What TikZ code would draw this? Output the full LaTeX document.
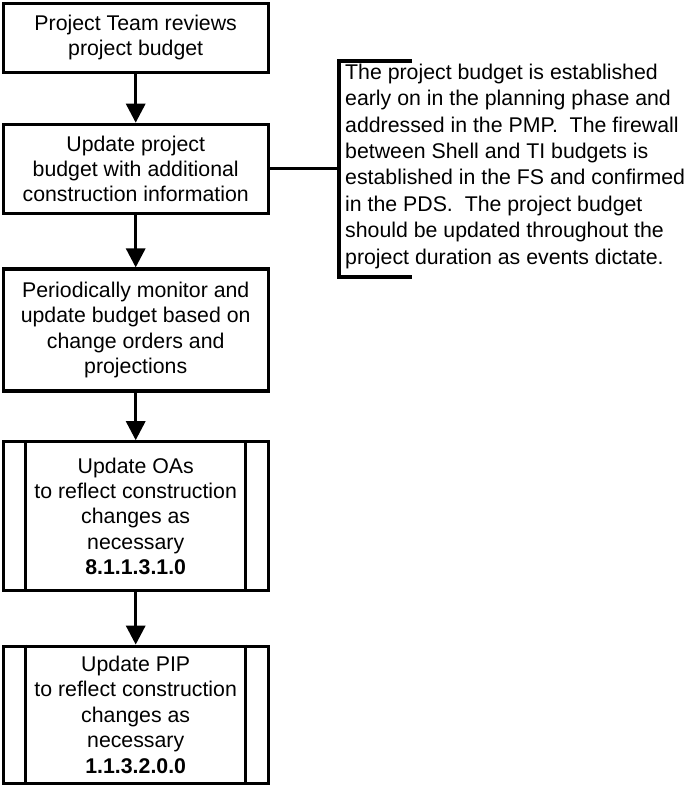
\documentclass[tikz,border=0pt]{standalone}
\usepackage{fontspec}
\setmainfont{Liberation Sans}
\usetikzlibrary{positioning, arrows.meta}

\tikzset{
  stepbox/.style={draw, line width=3.2pt, minimum width=265pt, inner sep=0pt,
                  align=center, font=\fontsize{21.3}{25.4}\selectfont},
  flowarrow/.style={line width=3.2pt, -{Triangle[width=19pt, length=19pt]}},
  plainline/.style={line width=3.2pt},
}

\begin{document}
\begin{tikzpicture}[x=1pt, y=-1pt]
  \useasboundingbox (0,0) rectangle (685,788);

  % main flow
  \node[stepbox, minimum height=69pt] (review) at (135.7,37.7)
    {Project Team reviews\\project budget};
  \node[stepbox, minimum height=89pt] (update) at (135.7,168.8)
    {Update project\\budget with additional\\construction information};
  \node[stepbox, minimum height=122pt] (monitor) at (135.7,330)
    {Periodically monitor and\\update budget based on\\change orders and\\projections};
  \node[stepbox, minimum height=149pt] (oas) at (135.7,516.3)
    {Update OAs\\to reflect construction\\changes as\\necessary\\\textbf{8.1.1.3.1.0}};
  \node[stepbox, minimum height=137pt] (pip) at (135.7,714.7)
    {Update PIP\\to reflect construction\\changes as\\necessary\\\textbf{1.1.3.2.0.0}};

  % predefined process sides
  \foreach \n in {oas, pip} {
    \draw[plainline] ([xshift=24pt]\n.north west) -- ([xshift=24pt]\n.south west);
    \draw[plainline] ([xshift=-24pt]\n.north east) -- ([xshift=-24pt]\n.south east);
  }

  \draw[flowarrow] (review) -- (update);
  \draw[flowarrow] (update) -- (monitor);
  \draw[flowarrow] (monitor) -- (oas);
  \draw[flowarrow] (oas) -- (pip);

  % annotation bracket
  \coordinate (notetop) at (412,61);
  \coordinate (notetl) at (339,61);
  \coordinate (notebl) at (339,277);
  \coordinate (notebot) at (412,277);
  \coordinate (notejoin) at (339,168.8);
  \draw[plainline] (notetop) -- (notetl) -- (notebl) -- (notebot);
  \draw[plainline] (update.east) -- (notejoin);
  \node[anchor=north west, inner sep=0pt, align=left,
        font=\fontsize{21.3}{26.4}\selectfont] (note) at (345,63.7)
    {The project budget is established\\
     early on in the planning phase and\\
     addressed in the PMP.\ \ The firewall\\
     between Shell and TI budgets is\\
     established in the FS and confirmed\\
     in the PDS.\ \ The project budget\\
     should be updated throughout the\\
     project duration as events dictate.};
\end{tikzpicture}
\end{document}
